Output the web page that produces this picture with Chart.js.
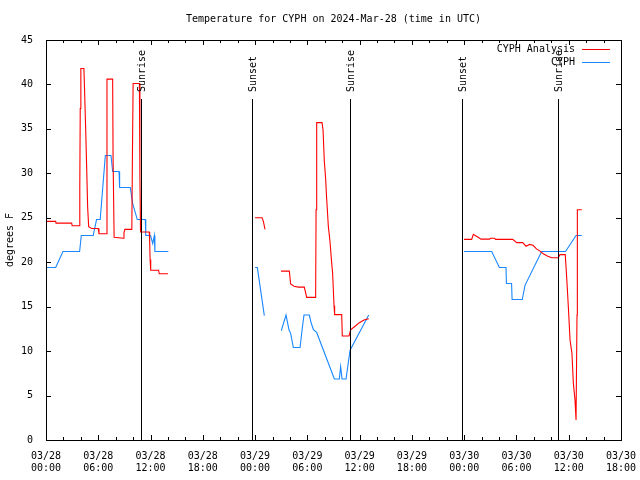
<!DOCTYPE html>
<html>
<head>
<meta charset="utf-8">
<script src="https://cdn.jsdelivr.net/npm/chart.js@4/dist/chart.umd.min.js"></script>
<style>
  html, body { margin: 0; padding: 0; background: #fff; }
  #wrap { width: 640px; height: 480px; position: relative; }
</style>
</head>
<body>
<div id="wrap"><canvas id="mycanvas" width="640" height="480"></canvas></div>
<script>
// hours since 03/28 00:00 UTC, null = gap
var analysisHours = [0, 1.11, 1.15, 2.95, 3.0, 3.83, 3.88, 3.93, 4.0, 4.35, 4.42, 4.55, 4.67, 4.78, 4.9, 5.24, 6.0, 6.08, 6.95, 7.0, 7.65, 7.7, 7.82, 8.88, 8.95, 9.05, 9.85, 9.92, 10.0, 10.72, 10.78, 10.85, 11.85, 11.9, 11.95, 12.02, 12.92, 13.0, 14.0, 14.1,
  24.0, 24.8, 24.95, 25.14, 25.2,
  26.97, 27.93, 28.08, 28.47, 28.96, 29.65, 29.92, 30.95, 31.0, 31.07, 31.68, 31.8, 31.95, 32.1, 32.2, 32.41, 32.6, 32.75, 32.9, 33.06, 33.13, 33.94, 34.01, 34.78, 34.97, 35.47, 35.97, 36.5, 37.04, 37.1,
  47.98, 48.86, 49.05, 49.35, 49.6, 49.93, 50.9, 51.05, 51.5, 51.6, 53.57, 54.03, 54.72, 55.1, 55.5, 55.9, 56.3, 56.7, 57.08, 57.54, 58.04, 58.8, 58.99, 59.6, 59.76, 59.96, 60.15, 60.37, 60.53, 60.72, 60.84, 60.9, 60.95, 60.99, 61.49];
var analysisTemps = [24.6, 24.6, 24.4, 24.4, 24.1, 24.1, 28.5, 37.3, 41.8, 41.8, 39.6, 35.1, 30.6, 26.2, 24.0, 23.8, 23.8, 23.2, 23.2, 40.6, 40.6, 31.7, 22.8, 22.7, 23.3, 23.7, 23.7, 31.9, 40.1, 40.1, 29.6, 23.4, 23.4, 22.3, 20.3, 19.1, 19.1, 18.7, 18.7, null,
  25.0, 25.0, 24.6, 23.7, null,
  19.0, 19.0, 17.55, 17.3, 17.2, 17.2, 16.05, 16.05, 25.9, 35.7, 35.7, 34.9, 31.3, 29.4, 27.4, 24.0, 22.3, 20.4, 18.75, 15.1, 14.1, 14.1, 11.7, 11.7, 12.4, 12.8, 13.2, 13.5, 13.65, null,
  22.57, 22.57, 23.13, 22.95, 22.8, 22.6, 22.6, 22.7, 22.7, 22.57, 22.57, 22.2, 22.2, 21.8, 22.0, 21.9, 21.5, 21.25, 20.96, 20.7, 20.5, 20.5, 20.85, 20.85, 18.4, 14.9, 11.25, 9.75, 6.4, 4.5, 2.25, 2.25, 14.06, 25.9, 25.9];

var obsHours = [0, 1.11, 1.95, 3.86, 4.05, 5.42, 5.8, 6.22, 6.81, 7.46, 7.65, 8.38, 8.45, 9.68, 9.95, 10.48, 11.4, 11.45, 12.0, 12.25, 12.43, 12.5, 14.04, 14.1,
  24.0, 24.26, 25.06, 25.1,
  27.01, 27.55, 27.89, 28.08, 28.39, 29.16, 29.42, 29.61, 30.23, 30.4, 30.69, 31.07, 33.1, 33.67, 33.82, 33.98, 34.44, 34.9, 37.04, 37.1,
  47.98, 51.16, 52.04, 52.8, 52.85, 53.44, 53.5, 54.67, 54.98, 56.89, 59.63, 60.84, 61.49];
var obsTemps = [19.4, 19.4, 21.2, 21.2, 23.0, 23.0, 24.8, 24.8, 32.0, 32.0, 30.2, 30.2, 28.4, 28.4, 26.6, 24.8, 24.8, 23.0, 23.0, 22.1, 23.0, 21.2, 21.2, null,
  19.4, 19.4, 14.0, null,
  12.3, 14.06, 12.4, 12.0, 10.4, 10.4, 12.6, 14.06, 14.06, 13.3, 12.4, 12.1, 6.86, 6.86, 8.25, 6.86, 6.86, 10.1, 14.06, null,
  21.2, 21.2, 19.4, 19.4, 17.6, 17.6, 15.8, 15.8, 17.4, 21.2, 21.2, 23.0, 23.0];

var sunHours = [10.94, 23.69, 34.93, 47.71, 58.81];
var sunLabels = ['Sunrise', 'Sunset', 'Sunrise', 'Sunset', 'Sunrise'];

var tickDates = ['03/28', '03/28', '03/28', '03/28', '03/29', '03/29', '03/29', '03/29', '03/30', '03/30', '03/30', '03/30'];
var tickTimes = ['00:00', '06:00', '12:00', '18:00', '00:00', '06:00', '12:00', '18:00', '00:00', '06:00', '12:00', '18:00'];

var seriesNames = ['CYPH Analysis', 'CYPH'];
var seriesColors = ['rgb(255,0,0)', 'rgb(25,135,255)'];

var FONT = '"DejaVu Sans Mono", "Liberation Mono", monospace';

function pts(xs, ys) {
  var out = [];
  for (var i = 0; i < xs.length; i++) out.push({ x: xs[i], y: ys[i] });
  return out;
}

var framePlugin = {
  id: 'frame',
  afterDatasetsDraw: function(chart) {
    var ctx = chart.ctx, a = chart.chartArea;
    var xs = chart.scales.x, ys = chart.scales.y;
    ctx.save();
    ctx.strokeStyle = '#000';
    ctx.lineWidth = 1;
    // sunrise / sunset markers
    ctx.fillStyle = '#000';
    ctx.font = '10px ' + FONT;
    for (var i = 0; i < sunHours.length; i++) {
      var px = Math.round(xs.getPixelForValue(sunHours[i])) + 0.5;
      ctx.beginPath();
      ctx.moveTo(px, 99);
      ctx.lineTo(px, a.bottom);
      ctx.stroke();
      ctx.save();
      ctx.translate(px + 1, 92);
      ctx.rotate(-Math.PI / 2);
      ctx.textAlign = 'left';
      ctx.textBaseline = 'middle';
      ctx.fillText(sunLabels[i], 0, 0);
      ctx.restore();
    }
    // frame
    ctx.strokeRect(a.left + 0.5, a.top + 0.5, a.right - a.left, a.bottom - a.top);
    // x ticks, major every 6h, minor every 2h
    ctx.beginPath();
    for (var h = xs.min; h <= xs.max; h += 2) {
      var x = Math.round(xs.getPixelForValue(h)) + 0.5;
      var len = (h % 6 === 0) ? 5 : 3;
      ctx.moveTo(x, a.bottom); ctx.lineTo(x, a.bottom - len);
      ctx.moveTo(x, a.top); ctx.lineTo(x, a.top + len);
    }
    ys.ticks.forEach(function(t) {
      var y = Math.round(ys.getPixelForValue(t.value)) + 0.5;
      ctx.moveTo(a.left, y); ctx.lineTo(a.left + 5, y);
      ctx.moveTo(a.right, y); ctx.lineTo(a.right - 5, y);
    });
    ctx.stroke();
    // legend
    ctx.font = '10px ' + FONT;
    ctx.textAlign = 'right';
    ctx.textBaseline = 'middle';
    for (var k = 0; k < seriesNames.length; k++) {
      var ly = 49 + k * 13;
      ctx.fillStyle = '#000';
      ctx.fillText(seriesNames[k], 575, ly);
      ctx.strokeStyle = seriesColors[k];
      ctx.beginPath();
      ctx.moveTo(582, ly + 0.5);
      ctx.lineTo(610, ly + 0.5);
      ctx.stroke();
    }
    // y axis title
    ctx.fillStyle = '#000';
    ctx.save();
    ctx.translate(10, 240);
    ctx.rotate(-Math.PI / 2);
    ctx.textAlign = 'center';
    ctx.textBaseline = 'middle';
    ctx.fillText('degrees F', 0, 0);
    ctx.restore();
    ctx.restore();
  }
};

var ctx = document.getElementById('mycanvas');
var lineChart = new Chart(ctx, {
  type: 'line',
  data: {
    datasets: [
      {
        label: seriesNames[0],
        data: pts(analysisHours, analysisTemps),
        borderColor: seriesColors[0],
        borderWidth: 1.1,
        pointRadius: 0,
        tension: 0,
        spanGaps: false
      },
      {
        label: seriesNames[1],
        data: pts(obsHours, obsTemps),
        borderColor: seriesColors[1],
        borderWidth: 1.1,
        pointRadius: 0,
        tension: 0,
        spanGaps: false
      }
    ]
  },
  options: {
    responsive: false,
    animation: false,
    events: [],
    layout: { padding: { left: 0, right: 19, top: 0, bottom: 0 } },
    plugins: {
      legend: { display: false },
      tooltip: { enabled: false },
      title: {
        display: true,
        fullSize: false,
        text: 'Temperature for CYPH on 2024-Mar-28 (time in UTC)',
        color: '#000',
        font: { family: FONT, size: 10, weight: 'normal', lineHeight: 1.2 },
        padding: { top: 13, bottom: 15 }
      }
    },
    scales: {
      x: {
        type: 'linear',
        min: 0,
        max: 66,
        grid: { display: false },
        border: { display: false },
        afterFit: function(s) { s.height = 40; },
        ticks: {
          stepSize: 6,
          autoSkip: false,
          maxRotation: 0,
          padding: 2,
          color: '#000',
          font: { family: FONT, size: 10, lineHeight: 1.25 },
          callback: function(v, i) { return [tickDates[i], tickTimes[i]]; }
        }
      },
      y: {
        min: 0,
        max: 45,
        grid: { display: false },
        border: { display: false },
        afterFit: function(s) { s.width = 46; },
        ticks: {
          stepSize: 5,
          padding: 5,
          color: '#000',
          font: { family: FONT, size: 10 }
        }
      }
    }
  },
  plugins: [framePlugin]
});
</script>
</body>
</html>
